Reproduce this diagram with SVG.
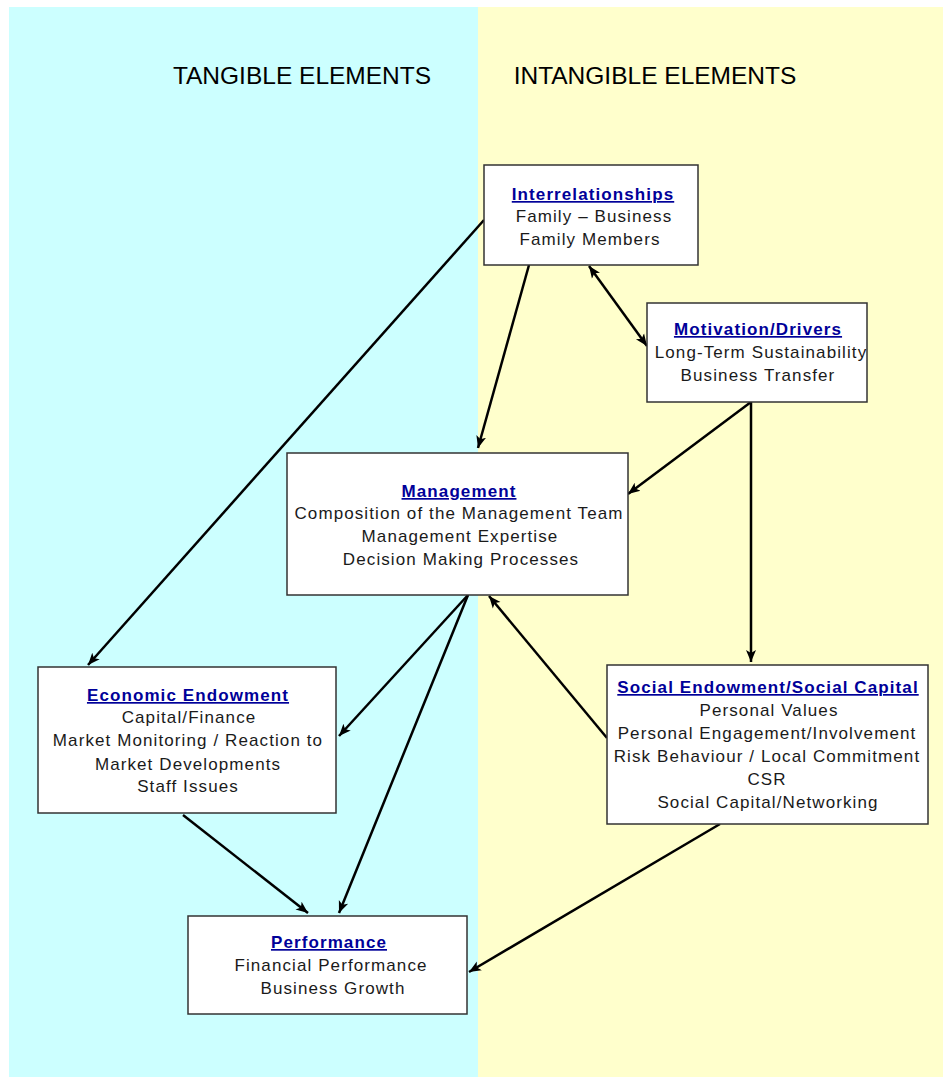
<svg xmlns="http://www.w3.org/2000/svg" width="943" height="1077" viewBox="0 0 943 1077">
<style>
.box{fill:#fff;stroke:#333;stroke-width:1.5}
.t{font-family:"Liberation Sans",Arial,sans-serif;font-size:17px;letter-spacing:1.1px;text-anchor:middle;fill:#1a1a1a}
.h{font-weight:bold;fill:#000099;text-decoration:underline}
.big{font-family:"Liberation Sans",Arial,sans-serif;font-size:24.5px;fill:#000;text-anchor:middle}
.c{stroke:#000;stroke-width:2.5;fill:none;marker-end:url(#ah)}
</style>
<defs>
<marker id="ah" markerUnits="userSpaceOnUse" markerWidth="14" markerHeight="12" refX="12" refY="5" orient="auto-start-reverse" viewBox="0 0 14 10">
<path d="M0,0 L12,5 L0,10 L3,5 z" fill="#000"/>
</marker>
</defs>
<rect x="0" y="0" width="943" height="1077" fill="#fff"/>
<rect x="9" y="7" width="469" height="1070" fill="#ccffff"/>
<rect x="478" y="7" width="465" height="1070" fill="#ffffcc"/>
<text class="big" x="302" y="84">TANGIBLE ELEMENTS</text>
<text class="big" x="655" y="84">INTANGIBLE ELEMENTS</text>
<g id="connectors">
<line class="c" x1="484" y1="220" x2="88" y2="665"/>
<line class="c" x1="529" y1="265" x2="478" y2="448"/>
<line class="c" x1="589" y1="266" x2="647" y2="346" style="marker-start:url(#ah)"/>
<line class="c" x1="751" y1="402" x2="628" y2="494"/>
<line class="c" x1="751" y1="402" x2="751" y2="662"/>
<line class="c" x1="607" y1="738" x2="489" y2="596"/>
<line class="c" x1="468" y1="595" x2="339" y2="736"/>
<line class="c" x1="468" y1="595" x2="339" y2="913"/>
<line class="c" x1="183" y1="815" x2="308" y2="913"/>
<line class="c" x1="720" y1="824" x2="469" y2="972"/>
</g>
<g id="interrelationships">
<rect class="box" x="484" y="165" width="214" height="100"/>
<text class="t h" x="593" y="200">Interrelationships</text>
<text class="t" x="594" y="222">Family – Business</text>
<text class="t" x="590" y="245">Family Members</text>
</g>
<g id="motivation">
<rect class="box" x="647" y="303" width="220" height="99"/>
<text class="t h" x="758" y="335">Motivation/Drivers</text>
<text class="t" x="761" y="358">Long-Term Sustainability</text>
<text class="t" x="758" y="381">Business Transfer</text>
</g>
<g id="management">
<rect class="box" x="287" y="453" width="341" height="142"/>
<text class="t h" x="459" y="497">Management</text>
<text class="t" x="459" y="519">Composition of the Management Team</text>
<text class="t" x="460" y="542">Management Expertise</text>
<text class="t" x="461" y="565">Decision Making Processes</text>
</g>
<g id="economic">
<rect class="box" x="38" y="667" width="298" height="146"/>
<text class="t h" x="188" y="701">Economic Endowment</text>
<text class="t" x="189" y="723">Capital/Finance</text>
<text class="t" x="188" y="746">Market Monitoring / Reaction to</text>
<text class="t" x="188" y="770">Market Developments</text>
<text class="t" x="188" y="792">Staff Issues</text>
</g>
<g id="social">
<rect class="box" x="607" y="665" width="321" height="159"/>
<text class="t h" x="768" y="693">Social Endowment/Social Capital</text>
<text class="t" x="769" y="716">Personal Values</text>
<text class="t" x="767" y="739">Personal Engagement/Involvement</text>
<text class="t" x="767" y="762">Risk Behaviour / Local Commitment</text>
<text class="t" x="767" y="785">CSR</text>
<text class="t" x="768" y="808">Social Capital/Networking</text>
</g>
<g id="performance">
<rect class="box" x="188" y="916" width="279" height="98"/>
<text class="t h" x="329" y="948">Performance</text>
<text class="t" x="331" y="971">Financial Performance</text>
<text class="t" x="333" y="994">Business Growth</text>
</g>
</svg>
